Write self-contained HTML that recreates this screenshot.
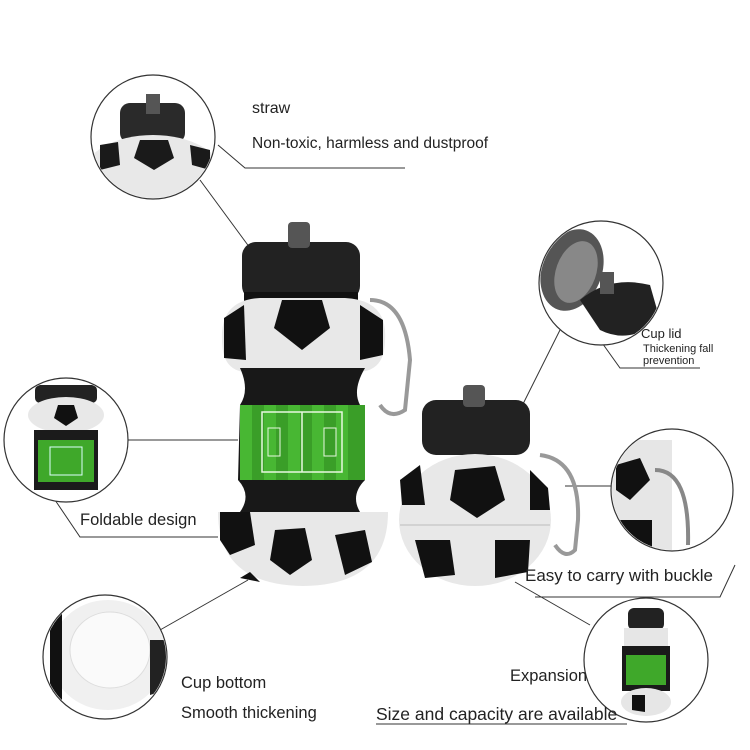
<!DOCTYPE html>
<html><head><meta charset="utf-8"><style>
html,body{margin:0;padding:0;background:#fff;}
body{width:750px;height:750px;position:relative;overflow:hidden;font-family:"Liberation Sans",sans-serif;color:#222;}
.t{position:absolute;white-space:nowrap;}
</style></head><body>
<svg width="750" height="750" style="position:absolute;left:0;top:0">
<defs>
<clipPath id="c1"><circle cx="153" cy="137" r="61"/></clipPath>
<clipPath id="c2"><circle cx="601" cy="283" r="61"/></clipPath>
<clipPath id="c3"><circle cx="66" cy="440" r="61"/></clipPath>
<clipPath id="c4"><circle cx="672" cy="490" r="60"/></clipPath>
<clipPath id="c5"><circle cx="105" cy="657" r="61"/></clipPath>
<clipPath id="c6"><circle cx="646" cy="660" r="61"/></clipPath>
</defs>
<g stroke="#333" stroke-width="1" fill="none">
<polyline points="218,145 245,168 405,168"/>
<line x1="200" y1="180" x2="250" y2="248"/>
<line x1="127" y1="440" x2="238" y2="440"/>
<polyline points="55,500 80,537 218,537"/>
<line x1="160" y1="630" x2="248" y2="580"/>
<line x1="520" y1="410" x2="560" y2="330"/>
<polyline points="600,340 620,368 700,368"/>
<line x1="565" y1="486" x2="612" y2="486"/>
<polyline points="535,597 720,597 735,565"/>
<polyline points="515,582 590,625"/>
<line x1="376" y1="724" x2="627" y2="724"/>
</g>
<g fill="#fff" stroke="#333" stroke-width="1.2">
<circle cx="153" cy="137" r="62"/><circle cx="601" cy="283" r="62"/>
<circle cx="66" cy="440" r="62"/><circle cx="672" cy="490" r="61"/>
<circle cx="105" cy="657" r="62"/><circle cx="646" cy="660" r="62"/>
</g>
<g clip-path="url(#c1)">
<rect x="120" y="103" width="65" height="40" rx="10" fill="#2a2a2a"/>
<rect x="146" y="94" width="14" height="20" fill="#555"/>
<ellipse cx="153" cy="175" rx="70" ry="40" fill="#e8e8e8"/>
<polygon points="140,140 168,140 174,158 154,170 134,158" fill="#1a1a1a"/>
<polygon points="100,145 118,142 120,165 100,170" fill="#1a1a1a"/>
<polygon points="190,145 210,150 210,170 192,165" fill="#1a1a1a"/>
</g>
<g clip-path="url(#c2)">
<ellipse cx="572" cy="270" rx="30" ry="42" fill="#555" transform="rotate(20 572 270)"/>
<ellipse cx="576" cy="272" rx="20" ry="32" fill="#888" transform="rotate(20 576 272)"/>
<path d="M580,300 Q610,275 650,285 L660,320 Q630,345 600,330 Z" fill="#222"/>
<rect x="600" y="272" width="14" height="22" fill="#555"/>
</g>
<g clip-path="url(#c3)">
<rect x="35" y="385" width="62" height="18" rx="5" fill="#222"/>
<ellipse cx="66" cy="415" rx="38" ry="18" fill="#e8e8e8"/>
<polygon points="58,405 74,405 78,418 66,426 54,418" fill="#111"/>
<rect x="34" y="430" width="64" height="60" fill="#1b1b1b"/>
<rect x="38" y="440" width="56" height="42" fill="#3fa82a"/>
<rect x="50" y="447" width="32" height="28" fill="none" stroke="#dff" stroke-width="1"/>
</g>
<g clip-path="url(#c4)">
<rect x="612" y="440" width="60" height="110" fill="#e6e6e6"/>
<polygon points="616,465 640,458 650,480 630,500 616,490" fill="#111"/>
<rect x="612" y="520" width="40" height="30" fill="#111"/>
<path d="M655,470 Q690,470 688,545" stroke="#888" stroke-width="4" fill="none"/>
</g>
<g clip-path="url(#c5)">
<ellipse cx="108" cy="655" rx="58" ry="55" fill="#f0f0f0"/>
<ellipse cx="110" cy="650" rx="40" ry="38" fill="#fafafa" stroke="#ddd"/>
<polygon points="50,620 62,610 62,700 50,690" fill="#111"/>
<polygon points="150,640 166,640 166,690 150,695" fill="#222"/>
</g>
<g clip-path="url(#c6)">
<rect x="628" y="608" width="36" height="22" rx="6" fill="#222"/>
<rect x="624" y="628" width="44" height="18" fill="#e6e6e6"/>
<rect x="622" y="646" width="48" height="45" fill="#1a1a1a"/>
<rect x="626" y="655" width="40" height="30" fill="#3fa82a"/>
<ellipse cx="646" cy="702" rx="25" ry="14" fill="#e6e6e6"/>
<polygon points="632,695 645,695 645,712 632,710" fill="#111"/>
</g>
<rect x="242" y="242" width="118" height="58" rx="14" fill="#222"/>
<rect x="288" y="222" width="22" height="26" rx="4" fill="#555"/>
<rect x="244" y="292" width="114" height="10" fill="#111"/>
<path d="M222,340 Q220,300 260,298 L345,298 Q388,300 385,340 Q385,370 360,372 L245,372 Q222,370 222,340 Z" fill="#e8e8e8"/>
<polygon points="282,300 322,300 330,328 302,350 274,328" fill="#111"/>
<polygon points="224,318 244,305 246,360 224,358" fill="#111"/>
<polygon points="360,305 383,320 383,355 360,360" fill="#111"/>
<path d="M240,368 L365,368 Q352,390 360,405 L365,480 Q350,495 360,512 L240,512 Q252,495 238,480 L240,405 Q250,390 240,368 Z" fill="#181818"/>
<rect x="240" y="405" width="125" height="75" fill="#3a9e28"/>
<g fill="#48b733"><rect x="240" y="405" width="12" height="75"/><rect x="264" y="405" width="12" height="75"/><rect x="288" y="405" width="12" height="75"/><rect x="312" y="405" width="12" height="75"/><rect x="336" y="405" width="12" height="75"/></g>
<rect x="262" y="412" width="80" height="60" fill="none" stroke="#e8f8e0" stroke-width="1.5"/>
<line x1="302" y1="412" x2="302" y2="472" stroke="#e8f8e0" stroke-width="1.5"/>
<rect x="268" y="428" width="12" height="28" fill="none" stroke="#e8f8e0"/>
<rect x="324" y="428" width="12" height="28" fill="none" stroke="#e8f8e0"/>
<path d="M218,512 L388,512 Q388,585 303,586 Q218,585 218,512 Z" fill="#e8e8e8"/>
<polygon points="220,512 250,512 255,545 230,555 220,540" fill="#111"/>
<polygon points="275,530 305,528 312,560 290,575 270,560" fill="#111"/>
<polygon points="335,535 365,530 372,562 345,575" fill="#111"/>
<polygon points="250,572 260,582 240,578" fill="#111"/>
<path d="M370,300 Q405,300 410,360 L405,410 Q390,420 380,405" stroke="#999" stroke-width="4" fill="none"/>
<rect x="422" y="400" width="108" height="55" rx="14" fill="#222"/>
<rect x="463" y="385" width="22" height="22" rx="4" fill="#555"/>
<ellipse cx="475" cy="520" rx="76" ry="66" fill="#e8e8e8"/>
<polygon points="455,470 495,466 505,500 477,518 450,500" fill="#111"/>
<polygon points="400,480 420,465 425,505 402,505" fill="#111"/>
<polygon points="415,540 450,540 455,575 425,578" fill="#111"/>
<polygon points="495,540 530,540 528,572 495,578" fill="#111"/>
<polygon points="530,470 548,488 550,510 530,510" fill="#111"/>
<line x1="400" y1="525" x2="550" y2="525" stroke="#bbb"/>
<path d="M540,455 Q580,460 578,520 L575,550 Q565,560 555,545" stroke="#999" stroke-width="4" fill="none"/>
</svg>
<div class="t" style="left:252px;top:100px;font-size:16px">straw</div>
<div class="t" style="left:252px;top:135px;font-size:15.5px">Non-toxic, harmless and dustproof</div>
<div class="t" style="left:641px;top:326px;font-size:13px">Cup lid</div>
<div class="t" style="left:643px;top:343px;font-size:11px">Thickening fall</div>
<div class="t" style="left:643px;top:355px;font-size:11px">prevention</div>
<div class="t" style="left:80px;top:511px;font-size:16.5px">Foldable design</div>
<div class="t" style="left:525px;top:566px;font-size:17px">Easy to carry with buckle</div>
<div class="t" style="left:510px;top:667px;font-size:16.5px">Expansion</div>
<div class="t" style="left:181px;top:674px;font-size:16.5px">Cup bottom</div>
<div class="t" style="left:181px;top:704px;font-size:16.5px">Smooth thickening</div>
<div class="t" style="left:376px;top:704px;font-size:17.5px">Size and capacity are available</div>
</body></html>
